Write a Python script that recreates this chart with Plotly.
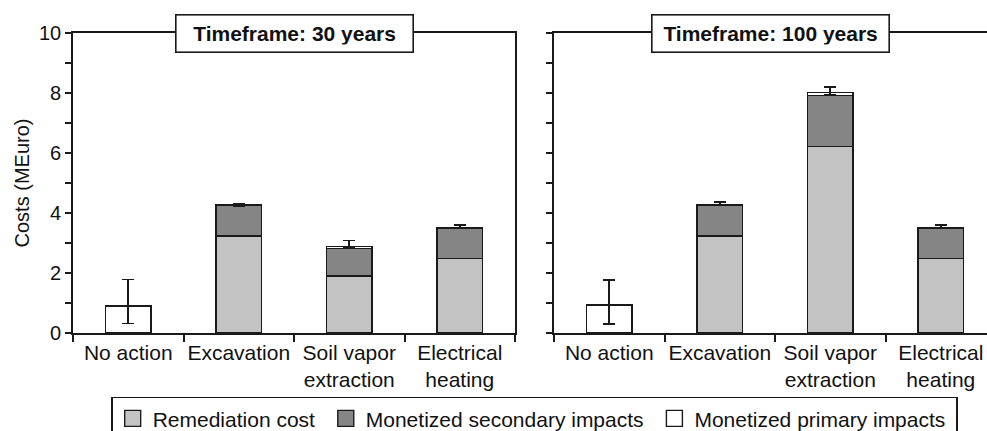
import plotly.graph_objects as go

FONT = "Arial, Liberation Sans, sans-serif"
INK = "#1a1a1a"
REMEDIATION_COLOR = "#c3c3c3"
SECONDARY_COLOR = "#858585"
PRIMARY_COLOR = "#ffffff"

categories = ["No action", "Excavation", "Soil vapor<br>extraction", "Electrical<br>heating"]
series_names = ["Remediation cost", "Monetized secondary impacts", "Monetized primary impacts"]
panel_titles = ["Timeframe: 30 years", "Timeframe: 100 years"]

# 30 year timeframe (MEuro)
remediation_30 = [None, 3.23, 1.90, 2.48]
secondary_30 = [None, 1.02, 0.92, 1.01]
primary_30 = [0.91, 0.02, 0.07, 0.02]
err_plus_30 = [0.87, 0.05, 0.20, 0.10]
err_minus_30 = [0.59, 0.03, 0.06, 0.03]

# 100 year timeframe (MEuro)
remediation_100 = [None, 3.24, 6.22, 2.48]
secondary_100 = [None, 1.01, 1.70, 1.02]
primary_100 = [0.93, 0.02, 0.10, 0.02]
err_plus_100 = [0.83, 0.10, 0.18, 0.09]
err_minus_100 = [0.63, 0.02, 0.07, 0.02]

panels = [
    (remediation_30, secondary_30, primary_30, err_plus_30, err_minus_30),
    (remediation_100, secondary_100, primary_100, err_plus_100, err_minus_100),
]

fig = go.Figure()
bar_line = dict(color=INK, width=1.6)
for i, (rem, sec, prim, ep, em) in enumerate(panels):
    xa = "x" if i == 0 else "x2"
    ya = "y" if i == 0 else "y2"
    fig.add_trace(go.Bar(x=categories, y=rem, marker=dict(color=REMEDIATION_COLOR, line=bar_line),
                         width=0.41, xaxis=xa, yaxis=ya, showlegend=False))
    fig.add_trace(go.Bar(x=categories, y=sec, marker=dict(color=SECONDARY_COLOR, line=bar_line),
                         width=0.41, xaxis=xa, yaxis=ya, showlegend=False))
    fig.add_trace(go.Bar(x=categories, y=prim, marker=dict(color=PRIMARY_COLOR, line=bar_line),
                         width=0.41, xaxis=xa, yaxis=ya, showlegend=False,
                         error_y=dict(type="data", symmetric=False, array=ep, arrayminus=em,
                                      color=INK, thickness=1.6, width=6)))

# legend swatches
for name, col in zip(series_names, [REMEDIATION_COLOR, SECONDARY_COLOR, PRIMARY_COLOR]):
    fig.add_trace(go.Scatter(x=[None], y=[None], mode="markers", name=name + " ",
                             marker=dict(symbol="square", size=18, color=col, line=dict(color=INK, width=1.4))))

axis_common = dict(showline=True, linecolor=INK, linewidth=1.6, ticks="outside",
                   tickcolor=INK, tickwidth=1.6, showgrid=False, zeroline=False, automargin=False)
xfont = dict(family=FONT, size=21, color="#111")
yfont = dict(family=FONT, size=20, color="#111")

fig.update_layout(
    width=987, height=431,
    margin=dict(l=73, r=0, t=33, b=98, autoexpand=False),
    paper_bgcolor="white", plot_bgcolor="white",
    barmode="stack",
    font=dict(family=FONT, size=20, color="#111"),
    xaxis=dict(domain=[0, 0.4836], type="category", range=[-0.5, 3.5], tickson="boundaries",
               ticklen=7, tickangle=0, mirror=True, tickfont=xfont, **axis_common),
    xaxis2=dict(domain=[0.5263, 1], type="category", range=[-0.5, 3.418], tickson="boundaries",
                ticklen=7, tickangle=0, mirror=True, anchor="y2", tickfont=xfont, **axis_common),
    yaxis=dict(range=[0, 10], dtick=2, ticklen=6, mirror=True, tickfont=yfont,
               minor=dict(dtick=1, ticks="outside", ticklen=6, tickcolor=INK, tickwidth=1.6),
               title=dict(text="Costs (MEuro)", font=dict(family=FONT, size=20, color="#111"), standoff=4),
               **axis_common),
    yaxis2=dict(range=[0, 10], dtick=2, ticklen=6, anchor="x2", showticklabels=False,
                minor=dict(dtick=1, ticks="outside", ticklen=6, tickcolor=INK, tickwidth=1.6),
                **axis_common),
    legend=dict(orientation="h", x=0.505, xanchor="center", y=-0.212, yanchor="top",
                traceorder="normal", bordercolor=INK, borderwidth=1.6, bgcolor="white",
                font=dict(family=FONT, size=21, color="#111"), itemclick=False),
    showlegend=True,
)

for title, xc in zip(panel_titles, [0.2418, 0.7632]):
    fig.add_annotation(text="<b>" + title + "</b>", xref="paper", yref="paper", x=xc, y=1,
                       xanchor="center", yanchor="middle", showarrow=False,
                       font=dict(family=FONT, size=21, color="#111"),
                       bgcolor="white", bordercolor=INK, borderwidth=1.6, borderpad=7, width=222, height=22)

# drop the browser's default body margin so the figure fills the window exactly
fig.write_html("out.html", config=dict(displayModeBar=False),
               post_script="document.body.style.margin='0';")
